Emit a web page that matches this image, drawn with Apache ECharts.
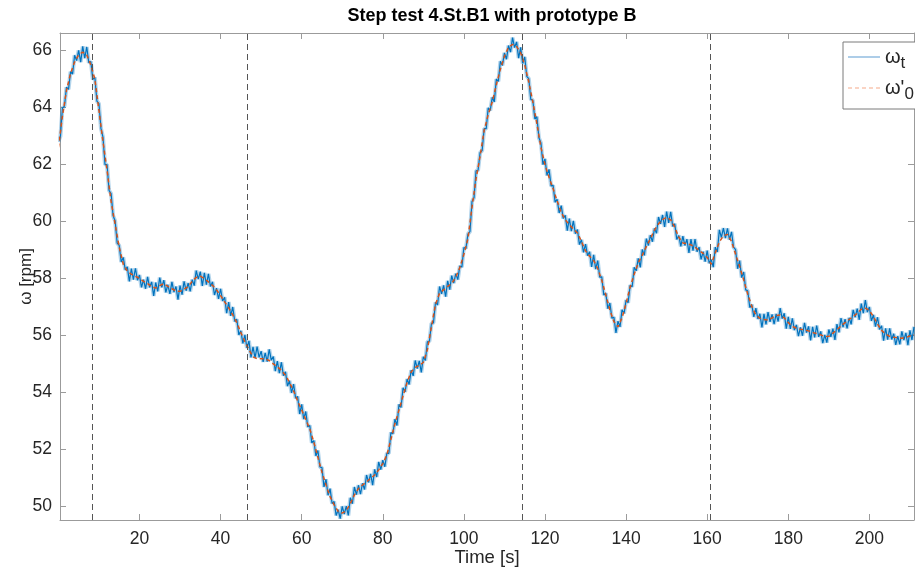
<!DOCTYPE html>
<html>
<head>
<meta charset="utf-8">
<script src="https://cdn.jsdelivr.net/npm/echarts@6/dist/echarts.min.js"></script>
<style>
html,body{margin:0;padding:0;background:#fff;}
#chart{width:915px;height:579px;}
</style>
</head>
<body>
<div id="chart"></div>
<script>
// Measured speed omega_t, sampled every 0.5 s starting at t = 0 s
const omegaTStep = 0.5;
const omegaT = [
62.80,62.99,63.98,64.05,64.72,64.64,65.26,65.18,65.84,65.65,
66.01,65.60,66.15,65.74,66.13,65.58,65.62,64.99,65.06,64.23,
64.14,63.27,62.96,62.00,62.00,61.09,60.98,60.20,60.02,59.24,
59.16,58.58,58.74,58.30,58.41,57.90,58.35,57.96,58.36,57.94,
58.12,57.69,57.96,57.64,58.06,57.69,57.88,57.39,57.86,57.55,
58.03,57.69,57.94,57.51,57.78,57.46,57.88,57.52,57.72,57.26,
57.75,57.43,57.90,57.57,57.84,57.55,57.96,57.75,58.28,57.98,
58.24,57.74,58.20,57.78,58.16,57.72,57.88,57.42,57.66,57.28,
57.64,57.21,57.34,56.78,57.17,56.69,57.00,56.49,56.57,56.02,
56.16,55.72,56.02,55.56,55.81,55.23,55.60,55.21,55.61,55.23,
55.45,55.07,55.39,55.08,55.51,55.13,55.26,54.75,55.10,54.68,
55.06,54.59,54.72,54.22,54.41,53.98,54.29,53.80,53.86,53.24,
53.58,53.06,53.33,52.79,52.84,52.23,52.31,51.77,51.96,51.38,
51.36,50.68,50.95,50.39,50.62,50.10,50.17,49.68,49.88,49.57,
50.00,49.73,50.01,49.68,50.30,50.09,50.68,50.41,50.74,50.43,
50.81,50.59,51.10,50.84,51.14,50.74,51.30,51.03,51.56,51.29,
51.62,51.39,51.86,51.86,52.59,52.55,53.06,52.84,53.58,53.47,
54.16,54.02,54.47,54.28,54.78,54.58,55.12,54.84,55.11,54.70,
55.25,55.12,55.78,55.80,56.42,56.44,57.16,57.07,57.72,57.46,
57.76,57.36,57.92,57.61,58.10,57.84,58.17,57.96,58.44,58.40,
59.09,59.05,59.56,59.65,60.70,60.84,61.78,61.80,62.42,62.49,
63.26,63.26,63.99,63.90,64.36,64.20,65.00,64.92,65.63,65.48,
65.92,65.70,66.18,65.95,66.46,66.11,66.31,65.74,66.12,65.55,
65.78,65.10,65.02,64.29,64.26,63.60,63.68,62.94,62.76,62.00,
62.20,61.62,61.83,61.25,61.27,60.68,60.78,60.30,60.56,60.11,
60.22,59.68,60.10,59.66,60.02,59.57,59.72,59.19,59.36,58.92,
59.21,58.80,58.94,58.41,58.83,58.33,58.63,58.05,58.06,57.42,
57.48,56.94,57.14,56.61,56.64,56.09,56.50,56.30,56.90,56.77,
57.24,57.15,57.76,57.71,58.39,58.27,58.71,58.39,59.02,58.81,
59.40,59.16,59.52,59.29,59.76,59.59,60.16,59.92,60.23,59.81,
60.35,59.95,60.34,59.83,59.92,59.37,59.51,59.13,59.49,59.16,
59.38,58.90,59.38,58.98,59.38,58.94,59.10,58.67,58.94,58.59,
58.98,58.54,58.66,58.40,59.10,58.93,59.71,59.44,59.77,59.42,
59.76,59.36,59.64,59.10,59.01,58.34,58.63,58.03,58.23,57.60,
57.57,56.98,57.08,56.65,56.96,56.58,56.76,56.28,56.76,56.39,
56.82,56.48,56.74,56.40,56.76,56.49,56.96,56.59,56.78,56.24,
56.65,56.23,56.60,56.19,56.37,55.98,56.28,55.99,56.44,56.10,
56.32,55.83,56.30,55.93,56.35,55.95,56.14,55.73,56.02,55.75,
56.21,55.95,56.24,55.84,56.40,56.11,56.61,56.29,56.57,56.25,
56.62,56.39,56.90,56.64,56.94,56.55,57.12,56.78,57.24,56.82,
57.00,56.51,56.72,56.31,56.64,56.21,56.34,55.82,56.25,55.85,
56.25,55.86,56.06,55.67,55.98,55.69,56.14,55.84,56.09,55.66,
56.18,55.84,56.30
];

// Reference omega'_0, sampled every 1 s starting at t = 0 s
const omega0Step = 1;
const omega0 = [
62.6,63.7,64.6,65.2,65.6,65.85,65.95,65.85,65.5,65.0,
63.9,62.8,61.8,60.7,59.9,59.1,58.5,58.25,58.15,58.08,
58.0,57.9,57.82,57.72,57.66,57.75,57.82,57.72,57.64,57.56,
57.55,57.62,57.72,57.9,58.04,58.08,58.0,57.88,57.76,57.6,
57.4,57.18,56.97,56.72,56.45,56.1,55.78,55.5,55.25,55.18,
55.18,55.18,55.12,55.0,54.9,54.78,54.6,54.35,54.05,53.7,
53.38,53.05,52.72,52.25,51.72,51.2,50.75,50.34,50.05,49.82,
49.76,49.85,50.1,50.4,50.62,50.75,50.86,50.98,51.1,51.28,
51.5,51.8,52.35,52.9,53.38,53.88,54.35,54.72,54.88,54.95,
55.05,55.5,56.3,57.1,57.48,57.6,57.72,57.82,58.05,58.38,
58.85,59.4,60.5,61.5,62.3,63.2,63.75,64.2,64.8,65.35,
65.8,66.12,66.22,66.15,65.92,65.5,64.9,64.2,63.44,62.6,
62.0,61.55,61.15,60.72,60.32,60.06,59.9,59.74,59.6,59.3,
58.97,58.78,58.63,58.35,57.94,57.42,56.9,56.48,56.3,56.62,
57.12,57.7,58.15,58.55,58.82,59.12,59.4,59.7,59.92,60.07,
60.15,60.06,59.8,59.45,59.25,59.22,59.18,59.1,58.98,58.88,
58.74,58.5,58.9,59.28,59.5,59.55,59.3,58.85,58.43,57.95,
57.45,57.02,56.72,56.6,56.56,56.54,56.62,56.7,56.72,56.62,
56.45,56.32,56.25,56.22,56.2,56.16,56.1,56.07,56.02,55.96,
55.97,56.08,56.2,56.33,56.45,56.56,56.66,56.78,56.92,56.96,
56.88,56.66,56.4,56.18,56.05,55.97,55.94,55.92,55.9,55.93,
55.98,56.02
];

// Step instants (dashed vertical lines), seconds
const stepTimes = [8.3, 46.6, 114.4, 160.8];

// Axis ranges and tick labels
const xRange = [0.4, 211];
const yRange = [49.52, 66.62];
const xTicks = [20, 40, 60, 80, 100, 120, 140, 160, 180, 200];
const yTicks = [50, 52, 54, 56, 58, 60, 62, 64, 66];

const omegaTData = omegaT.map((v, i) => [i * omegaTStep, v]);
const omega0Data = omega0.map((v, i) => [i * omega0Step, v]);

const axisGray = '#9b9b9b';
const textDark = '#262626';
const font = 'Liberation Sans, Arial, Helvetica, sans-serif';

function xAx(pos, show) {
  return {
    type: 'value', position: pos, min: xRange[0], max: xRange[1],
    axisLine: { show: true, onZero: false, lineStyle: { color: axisGray, width: 1 } },
    axisTick: { show: true, inside: true, length: 6, customValues: xTicks, lineStyle: { color: axisGray } },
    axisLabel: { show: show, customValues: xTicks, color: textDark, fontSize: 17.5, margin: 10, fontFamily: font },
    splitLine: { show: false },
    name: show ? 'Time [s]' : '', nameLocation: 'middle', nameGap: 28, nameMoveOverlap: false,
    nameTextStyle: { color: textDark, fontSize: 18.5, fontFamily: font, verticalAlign: 'top' }
  };
}
function yAx(pos, show) {
  return {
    type: 'value', position: pos, min: yRange[0], max: yRange[1],
    axisLine: { show: true, onZero: false, lineStyle: { color: axisGray, width: 1 } },
    axisTick: { show: true, inside: true, length: 6, customValues: yTicks, lineStyle: { color: axisGray } },
    axisLabel: { show: show, customValues: yTicks, color: textDark, fontSize: 17.5, margin: 8, fontFamily: font },
    splitLine: { show: false },
    name: show ? 'ω [rpm]' : '', nameLocation: 'middle', nameGap: 25, nameRotate: 90, nameMoveOverlap: false,
    nameTextStyle: { color: textDark, fontSize: 17, fontFamily: font, verticalAlign: 'bottom' }
  };
}

const dashIcon = 'path://M0,0h4v1h-4z M7,0h4v1h-4z M14,0h4v1h-4z M21,0h4v1h-4z M28,0h4v1h-4z';
const solidIcon = 'path://M0,0h32v1h-32z';

const chart = echarts.init(document.getElementById('chart'));
chart.setOption({
  animation: false,
  backgroundColor: '#ffffff',
  title: {
    text: 'Step test 4.St.B1 with prototype B',
    left: 487, top: 2, textAlign: 'center',
    textStyle: { fontSize: 18, fontWeight: 'bold', color: '#000', fontFamily: font }
  },
  grid: { left: 60, right: 1, top: 33, bottom: 59, outerBoundsMode: 'none', containLabel: false },
  xAxis: [xAx('bottom', true), xAx('top', false)],
  yAxis: [yAx('left', true), yAx('right', false)],
  legend: {
    show: true, orient: 'vertical', left: 843, top: 42, width: 120, height: 140,
    backgroundColor: '#ffffff', borderColor: '#7a7a7a', borderWidth: 1,
    padding: [5, 4, 6, 5], itemGap: 6, itemWidth: 32, itemHeight: 1.5,
    data: [
      { name: 'wt', icon: solidIcon, itemStyle: { color: '#5b9bd0' } },
      { name: 'w0', icon: dashIcon, itemStyle: { color: '#f5a98a' } }
    ],
    formatter: function (n) { return n === 'wt' ? '{w|ω}{s|t}' : "{w|ω'}{s|0}"; },
    textStyle: {
      color: textDark,
      rich: {
        w: { fontSize: 20, fontFamily: font, color: textDark, lineHeight: 30 },
        s: { fontSize: 17, fontFamily: font, color: textDark, lineHeight: 17, verticalAlign: 'bottom' }
      }
    }
  },
  series: [
    {
      name: 'wtHalo', type: 'line', data: omegaTData, showSymbol: false, symbol: 'none',
      lineStyle: { color: '#0072BD', width: 4, opacity: 0.3 }, clip: true, z: 1, silent: true
    },
    {
      name: 'wt', type: 'line', data: omegaTData, showSymbol: false, symbol: 'none',
      lineStyle: { color: '#0072BD', width: 1.2 }, itemStyle: { color: '#0072BD' },
      clip: true, z: 2
    },
    {
      name: 'w0', type: 'line', data: omega0Data, showSymbol: false, symbol: 'none',
      lineStyle: { color: '#D95319', width: 1.5, type: [4, 3] }, itemStyle: { color: '#D95319' },
      clip: true, z: 3,
      markLine: {
        silent: true, symbol: 'none', label: { show: false },
        lineStyle: { color: '#555555', width: 1, type: [6, 4] },
        data: stepTimes.map(t => ({ xAxis: t }))
      }
    }
  ]
});
</script>
</body>
</html>
